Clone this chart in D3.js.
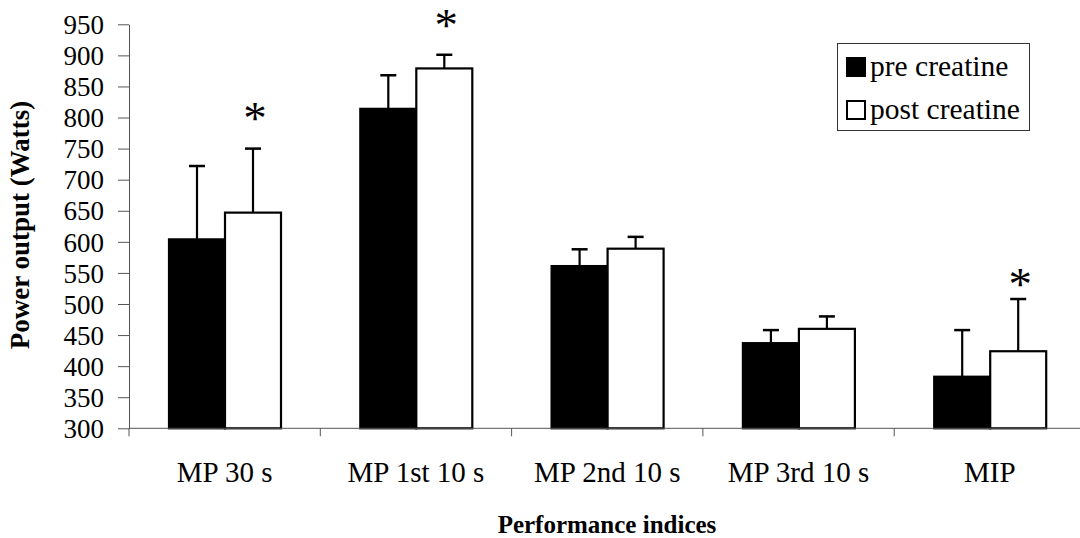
<!DOCTYPE html>
<html>
<head>
<meta charset="utf-8">
<script src="https://cdn.jsdelivr.net/npm/d3@7"></script>
<style>
  body { margin: 0; background: #fff; }
  text { font-family: "Liberation Serif", "Times New Roman", serif; fill: #000; }
</style>
</head>
<body>
<svg class="chart"></svg>
<script>
var categories = ["MP 30 s", "MP 1st 10 s", "MP 2nd 10 s", "MP 3rd 10 s", "MIP"];
var series = ["pre creatine", "post creatine"];
var preValues = [604, 814, 561, 437, 383];
var preErr = [118, 54, 27, 21, 75];
var postValues = [647, 879, 589, 460, 424];
var postErr = [103, 22, 19, 20, 84];
// where the significance stars sit, in Watts (null = none)
var starAt = [807, 957, null, null, 540];
var yTicks = [300, 350, 400, 450, 500, 550, 600, 650, 700, 750, 800, 850, 900, 950];

var width = 1080;
var height = 538;
var svg = d3.select(".chart").attr("width", width).attr("height", height);

var left = 129, plotTop = 24.3, plotBottom = 428.3;

var y = d3.scaleLinear().domain([300, 950]).range([plotBottom, plotTop]);

var x0 = d3.scaleBand()
    .domain(categories)
    .range([left, left + 191.3 * categories.length]);

var x1 = d3.scaleBand()
    .domain(series)
    .range([40, 152]);

var colors = {"pre creatine": "#000", "post creatine": "#fff"};

var flat = [];
categories.forEach(function(c, i) {
  flat.push({cat: c, s: series[0], v: preValues[i], e: preErr[i]});
  flat.push({cat: c, s: series[1], v: postValues[i], e: postErr[i]});
});

// error bars (drawn first so bars sit over the stem)
var eb = svg.append("g");
flat.forEach(function(d) {
  var cx = x0(d.cat) + x1(d.s) + x1.bandwidth() / 2;
  eb.append("line")
    .attr("x1", cx).attr("x2", cx)
    .attr("y1", y(d.v)).attr("y2", y(d.v + d.e))
    .attr("stroke", "#000").attr("stroke-width", 2.2);
  eb.append("line")
    .attr("x1", cx - 8).attr("x2", cx + 8)
    .attr("y1", y(d.v + d.e)).attr("y2", y(d.v + d.e))
    .attr("stroke", "#000").attr("stroke-width", 2.5);
});

svg.append("g").selectAll("rect")
    .data(flat)
  .enter().append("rect")
    .attr("x", function(d) { return x0(d.cat) + x1(d.s); })
    .attr("y", function(d) { return y(d.v); })
    .attr("width", x1.bandwidth())
    .attr("height", function(d) { return y(300) - y(d.v); })
    .attr("fill", function(d) { return colors[d.s]; })
    .attr("stroke", "#000")
    .attr("stroke-width", 2.2);

// stars
categories.forEach(function(c, i) {
  if (starAt[i] == null) return;
  svg.append("text")
    .attr("x", x0(c) + x1(series[1]) + x1.bandwidth() / 2 + 2)
    .attr("y", y(starAt[i]) + 21)
    .attr("text-anchor", "middle")
    .style("font-size", "47px")
    .text("*");
});

// y axis
var yAxis = d3.axisLeft(y).tickValues(yTicks).tickSize(11).tickSizeOuter(0).tickPadding(14);
var gy = svg.append("g")
    .attr("transform", "translate(" + left + ",0)")
    .call(yAxis);
gy.select(".domain").attr("stroke", "#555");
gy.selectAll(".tick line").attr("stroke", "#555");
gy.selectAll(".tick text")
    .attr("dy", "0.34em")
    .style("font-size", "27px")
    .style("font-family", "'Liberation Serif', serif");

// x axis
var gx = svg.append("g");
gx.append("line")
    .attr("x1", left).attr("x2", width)
    .attr("y1", plotBottom).attr("y2", plotBottom)
    .attr("stroke", "#555");
gx.selectAll(".xt")
    .data(categories)
  .enter().append("line")
    .attr("x1", function(d) { return x0(d); })
    .attr("x2", function(d) { return x0(d); })
    .attr("y1", plotBottom).attr("y2", plotBottom + 8)
    .attr("stroke", "#555");
gx.selectAll(".xl")
    .data(categories)
  .enter().append("text")
    .attr("x", function(d) { return x0(d) + x0.bandwidth() / 2; })
    .attr("y", 482)
    .attr("text-anchor", "middle")
    .style("font-size", "29px")
    .text(function(d) { return d; });

// titles
svg.append("text")
    .attr("x", 607)
    .attr("y", 533)
    .attr("text-anchor", "middle")
    .style("font-size", "25px")
    .style("font-weight", "bold")
    .text("Performance indices");

svg.append("text")
    .attr("transform", "rotate(-90)")
    .attr("x", -225)
    .attr("y", 29)
    .attr("text-anchor", "middle")
    .style("font-size", "27px")
    .style("font-weight", "bold")
    .text("Power output (Watts)");

// legend
var lg = svg.append("g");
lg.append("rect")
    .attr("x", 837.5).attr("y", 43.5)
    .attr("width", 192).attr("height", 87)
    .attr("fill", "#fff").attr("stroke", "#333");
series.forEach(function(s, i) {
  var cy = 67 + i * 43;
  lg.append("rect")
    .attr("x", 847).attr("y", cy - 9)
    .attr("width", 18).attr("height", 18)
    .attr("fill", colors[s]).attr("stroke", "#000").attr("stroke-width", 2);
  lg.append("text")
    .attr("x", 870)
    .attr("y", cy + 9)
    .style("font-size", "29.5px")
    .text(s);
});
</script>
</body>
</html>
